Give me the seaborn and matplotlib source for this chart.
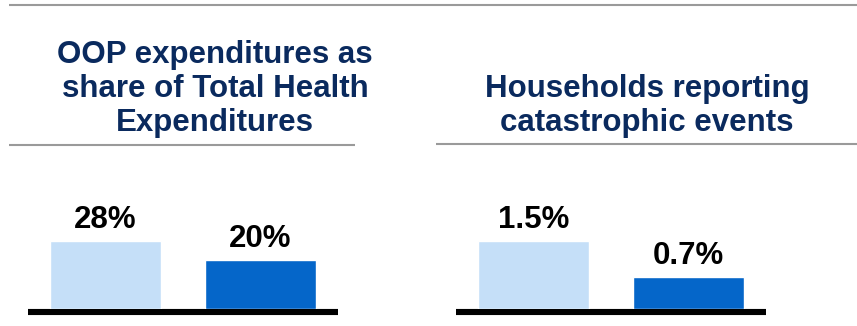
import matplotlib
matplotlib.use("Agg")
import matplotlib.pyplot as plt
import seaborn as sns
import pandas as pd
from matplotlib.lines import Line2D

# ---- data ----
periods = ["Before", "After"]
oop_share = [28, 20]
oop_labels = ["28%", "20%"]
catastrophic = [1.5, 0.7]
cat_labels = ["1.5%", "0.7%"]
title_left = ["OOP expenditures as", "share of Total Health", "Expenditures"]
title_right = ["Households reporting", "catastrophic events"]

bar_colors = ["#c5dff8", "#0566c9"]
title_color = "#0a2a5e"
rule_color = "#9a9a9a"

sns.set_theme(style="white")
plt.rcParams["font.family"] = ["Liberation Sans", "DejaVu Sans"]

W, H = 857, 326
fig = plt.figure(figsize=(W / 100, H / 100), dpi=100)

# overlay axes in pixel coordinates for titles and rules
ov = fig.add_axes([0, 0, 1, 1])
ov.set_xlim(0, W)
ov.set_ylim(H, 0)
ov.axis("off")

def px_axes(x0, x1, y_top, y_bot):
    return fig.add_axes([x0 / W, (H - y_bot) / H, (x1 - x0) / W, (y_bot - y_top) / H])

fs = 22.5

def panel(x0, x1, values, labels):
    ax = px_axes(x0, x1, 190, 309)
    df = pd.DataFrame({"period": periods, "value": values})
    sns.barplot(data=df, x="period", y="value", hue="period", order=periods,
                hue_order=periods, palette=bar_colors, width=0.71,
                dodge=False, legend=False, ax=ax, saturation=1)
    ax.set_xlim(-0.5, 1.5)
    ax.set_ylim(0, max(values) * 119 / 68)
    ax.axis("off")
    for cont in ax.containers:
        for bar in cont:
            pass
    # labels
    for cont, lab in zip(ax.containers, labels):
        ax.bar_label(cont, labels=[lab], padding=4.6, fontsize=fs,
                     fontweight="bold", color="black")
    # baseline
    ov.add_line(Line2D([x0, x1], [312, 312], color="black", lw=4.4,
                       solid_capstyle="butt"))
    return ax

panel(28, 338, oop_share, oop_labels)
panel(456, 766, catastrophic, cat_labels)

# top rule and title rules
ov.add_line(Line2D([9, W], [5, 5], color=rule_color, lw=1.5, solid_capstyle="butt"))
ov.add_line(Line2D([9, 355], [144.5, 144.5], color=rule_color, lw=1.5, solid_capstyle="butt"))
ov.add_line(Line2D([436, W], [144, 144], color=rule_color, lw=1.5, solid_capstyle="butt"))

# titles
for txt, yb in zip(title_left, [63, 97, 131]):
    ov.text(215, yb, txt, ha="center", va="baseline", fontsize=fs,
            fontweight="bold", color=title_color)
for txt, yb in zip(title_right, [97, 131]):
    ov.text(647, yb, txt, ha="center", va="baseline", fontsize=fs,
            fontweight="bold", color=title_color)

fig.savefig("out.png", dpi=100)
